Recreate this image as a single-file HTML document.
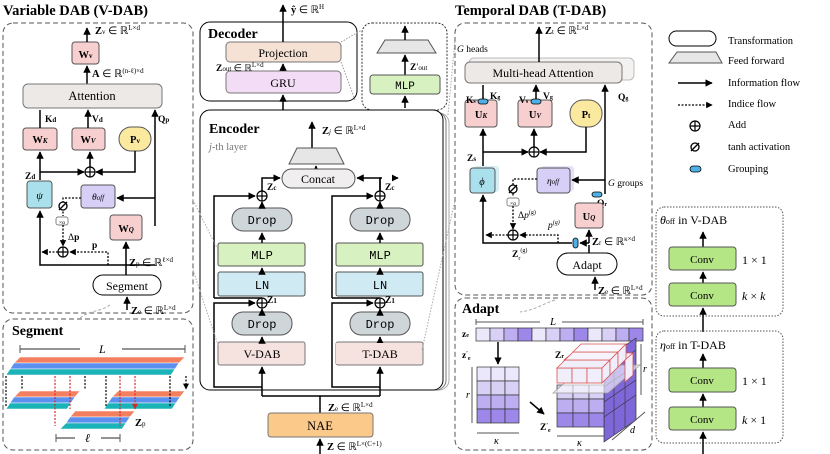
<!DOCTYPE html>
<html><head><meta charset="utf-8"><style>
html,body{margin:0;padding:0;background:#fff;}
svg{display:block;font-family:"Liberation Serif",serif;}
.b{font-weight:bold}
.m{font-family:"Liberation Mono",monospace}
</style></head><body>
<svg width="830" height="454" viewBox="0 0 830 454" xmlns="http://www.w3.org/2000/svg">
<defs>
<marker id="a" viewBox="0 0 10 10" refX="9" refY="5" markerWidth="5" markerHeight="5" orient="auto"><path d="M0,0L10,5L0,10z" fill="#000"/></marker>
<marker id="ar" viewBox="0 0 10 10" refX="9" refY="5" markerWidth="5" markerHeight="5" orient="auto"><path d="M0,0L10,5L0,10z" fill="#d62828"/></marker>
<g id="plus"><circle r="5" fill="#fff" stroke="#000" stroke-width="1.2"/><path d="M-5,0H5M0,-5V5" stroke="#000" stroke-width="1.2"/></g>
<g id="tanh"><circle r="4" fill="#fff" stroke="#000" stroke-width="1.3"/><path d="M-4,4L4,-4" stroke="#000" stroke-width="1.3"/></g>
</defs>
<style>
.pk{fill:#f8cfcf;stroke:#555;stroke-width:1}
.ln{stroke:#000;stroke-width:1.5;fill:none}
.dt{stroke:#000;stroke-width:1.3;fill:none;stroke-dasharray:2,1.5}
.t{font-size:10.5px}
.s{font-size:9.5px}
</style>

<!-- ===== V-DAB ===== -->
<text x="3" y="15" class="b" font-size="14.5">Variable DAB (V-DAB)</text>
<rect x="3" y="23" width="190" height="290" rx="10" fill="none" stroke="#555" stroke-dasharray="5,3"/>
<rect x="72" y="42" width="27" height="22" rx="3" class="pk"/><text x="85.5" y="58" text-anchor="middle" class="t b">W<tspan font-size="7">v</tspan></text>
<path d="M87,42V28" class="ln" marker-end="url(#a)"/><text x="95" y="34" class="t"><tspan class="b">Z</tspan><tspan font-size="7">v</tspan> ∈ ℝ<tspan font-size="7" dy="-4">L×d</tspan></text>
<path d="M87,84V66" class="ln" marker-end="url(#a)"/><text x="92" y="77" class="t"><tspan class="b">A</tspan> ∈ ℝ<tspan font-size="7" dy="-4">(n-ℓ)×d</tspan></text>
<rect x="23" y="84" width="139" height="24" rx="5" fill="#ede9e6" stroke="#777"/><text x="92" y="100" text-anchor="middle" font-size="12.5">Attention</text>
<rect x="23" y="128" width="34" height="22" rx="3" class="pk"/><text x="40" y="143" text-anchor="middle" class="t b">W<tspan font-size="7" font-style="italic">K</tspan></text>
<rect x="72" y="128" width="33" height="22" rx="3" class="pk"/><text x="88" y="143" text-anchor="middle" class="t b">W<tspan font-size="7" font-style="italic">V</tspan></text>
<rect x="119" y="127" width="32" height="24" rx="12" fill="#fbe9a0" stroke="#555"/><text x="135" y="143" text-anchor="middle" class="t b">P<tspan font-size="7">v</tspan></text>
<path d="M40,128V110M88,128V110" class="ln" marker-end="url(#a)"/>
<text x="45" y="122" class="s b">K<tspan font-size="7">d</tspan></text><text x="92" y="122" class="s b">V<tspan font-size="7">d</tspan></text>
<path d="M155,226H155V110" class="ln" marker-end="url(#a)"/><text x="158" y="122" class="s b">Q<tspan font-size="7">p</tspan></text>
<path d="M40,180V152" class="ln" marker-end="url(#a)"/>
<path d="M40,172H84" class="ln" marker-end="url(#a)"/>
<path d="M135,151V172H96" class="ln" marker-end="url(#a)"/>
<path d="M90,167V152" class="ln" marker-end="url(#a)"/>
<use href="#plus" x="90" y="172"/>
<text x="25" y="179" class="s b">Z<tspan font-size="7">d</tspan></text>
<rect x="27" y="181" width="25" height="27" rx="3" fill="#a9e0ec" stroke="#555"/><text x="39.5" y="199" text-anchor="middle" class="t" font-style="italic">ψ</text>
<rect x="81" y="185" width="34" height="23" rx="3" fill="#d8cff6" stroke="#555"/><text x="98" y="200" text-anchor="middle" class="s" font-style="italic">θ<tspan font-size="7">off</tspan></text>
<path d="M155,198H117" class="ln" marker-end="url(#a)"/>
<rect x="110" y="215" width="32" height="25" rx="3" class="pk"/><text x="126" y="232" text-anchor="middle" class="t b">W<tspan font-size="7" font-style="italic">Q</tspan></text>
<path d="M126,265V242" class="ln" marker-end="url(#a)"/>
<path d="M81,198H63V216" class="dt"/>
<use href="#tanh" x="63" y="206"/>
<rect x="56" y="217" width="12" height="8" rx="2" fill="#fff" stroke="#555" stroke-width="0.7"/><text x="62" y="224" text-anchor="middle" font-size="5.5">×α</text>
<path d="M63,225V246" class="dt" marker-end="url(#a)"/><text x="68" y="240" class="s b"><tspan font-weight="normal">Δ</tspan>p</text>
<use href="#plus" x="63" y="252"/>
<path d="M108,265V252H70" class="dt" marker-end="url(#a)"/><text x="92" y="248" class="s b">p</text>
<path d="M58,252H42" class="dt" marker-end="url(#a)"/>
<path d="M155,265H40V211" class="ln" marker-end="url(#a)"/>
<path d="M126,275V265" class="ln"/>
<text x="129" y="266" class="t"><tspan class="b">Z</tspan><tspan font-size="7">p</tspan> ∈ ℝ<tspan font-size="7" dy="-4">ℓ×d</tspan></text>
<rect x="93" y="275" width="68" height="20" rx="10" fill="#fff" stroke="#000"/><text x="127" y="290" text-anchor="middle" font-size="12">Segment</text>
<path d="M127,310V297" class="ln" marker-end="url(#a)"/>
<text x="131" y="314" class="t"><tspan class="b">Z</tspan><tspan font-size="7">e</tspan> ∈ ℝ<tspan font-size="7" dy="-4">L×d</tspan></text>

<!-- ===== Segment panel ===== -->
<rect x="3" y="319" width="190" height="131" rx="10" fill="none" stroke="#555" stroke-dasharray="5,3"/>
<text x="12" y="335" class="b" font-size="14">Segment</text>
<path d="M20,349H80M122,349H185" stroke="#555" stroke-width="1.2"/><path d="M20,345V353M185,345V353" stroke="#555"/>
<text x="99" y="353" font-size="12" font-style="italic">L</text>
<g stroke="#fff" stroke-width="0.6">
<path d="M20,357H185L179,363H14z" fill="#f47f5e"/><path d="M14,363H179L175,369H10z" fill="#5b8ff0"/><path d="M10,369H175L171,375H6z" fill="#1ab3b8"/>
<path d="M20,391H80L75,397H14z" fill="#f47f5e"/><path d="M14,397H75L71,403H10z" fill="#5b8ff0"/><path d="M10,403H71L67,409H6z" fill="#1ab3b8"/>
<path d="M118,391H185L180,397H112z" fill="#f47f5e"/><path d="M112,397H180L176,403H108z" fill="#5b8ff0"/><path d="M108,403H176L172,409H104z" fill="#1ab3b8"/>
<path d="M75,411H135L130,417H70z" fill="#f47f5e"/><path d="M70,417H130L126,423H66z" fill="#5b8ff0"/><path d="M66,423H126L122,429H60z" fill="#1ab3b8"/>
</g>
<g stroke-dasharray="2,1.5" stroke-width="1.2" fill="none">
<path d="M6,376V406M22,376V389M85,376V389M106,376V406M170,376V406M186,376V389" stroke="#000" marker-end="url(#a)"/>
<path d="M55,376V426M70,376V409M120,376V426M135,376V409" stroke="#d62828" marker-end="url(#ar)"/>
</g>
<text x="135" y="426" class="t"><tspan class="b">Z</tspan><tspan font-size="7">p</tspan></text>
<path d="M56,438H75M101,438H120" stroke="#555" stroke-width="1.2"/><path d="M56,434V442M120,434V442" stroke="#555"/>
<text x="85" y="442" font-size="12" font-style="italic">ℓ</text>
<path d="M80,318C90,310 100,312 110,305" stroke="#aaa" fill="none" stroke-dasharray="3,2"/>

<!-- ===== Decoder ===== -->
<rect x="200" y="22" width="157" height="79" rx="10" fill="none" stroke="#000"/>
<text x="208" y="38" class="b" font-size="14">Decoder</text>
<rect x="226" y="42" width="115" height="20" rx="4" fill="#f6e2d4" stroke="#777"/><text x="283" y="57" text-anchor="middle" font-size="12">Projection</text>
<rect x="226" y="71" width="115" height="22" rx="4" fill="#f3dcf5" stroke="#777"/><text x="283" y="87" text-anchor="middle" font-size="12">GRU</text>
<path d="M283,42V5" class="ln" marker-end="url(#a)"/><text x="291" y="13" class="t"><tspan class="b">ŷ</tspan> ∈ ℝ<tspan font-size="7" dy="-4">H</tspan></text>
<path d="M283,71V64" class="ln" marker-end="url(#a)"/><text x="216" y="71" class="s"><tspan class="b">Z</tspan><tspan font-size="7">out</tspan> ∈ ℝ<tspan font-size="7" dy="-4">L×d</tspan></text>
<path d="M283,110V95" class="ln" marker-end="url(#a)"/>
<rect x="362" y="23" width="85" height="87" rx="10" fill="none" stroke="#333" stroke-dasharray="2,1.5"/>
<path d="M341,42L362,30M341,62L355,100" stroke="#999" stroke-dasharray="1.5,1.5" fill="none"/>
<path d="M377,53L385,40H428L436,53z" fill="#e6e6e6" stroke="#555"/>
<path d="M405,40V26" class="ln" marker-end="url(#a)"/>
<path d="M405,75V55" class="ln" marker-end="url(#a)"/><text x="410" y="70" class="s"><tspan class="b">Z</tspan>′<tspan font-size="7">out</tspan></text>
<rect x="370" y="75" width="70" height="19" rx="3" fill="#d7f1c0" stroke="#555"/><text x="405" y="89" text-anchor="middle" class="m" font-size="11">MLP</text>
<path d="M405,108V96" class="ln" marker-end="url(#a)"/>

<!-- ===== Encoder ===== -->
<rect x="207" y="113" width="242" height="277" rx="10" fill="#fff" stroke="#aaa"/>
<rect x="204" y="112" width="242" height="278" rx="10" fill="#fff" stroke="#777"/>
<rect x="200" y="110" width="243" height="280" rx="10" fill="#fff" stroke="#000"/>
<text x="209" y="133" class="b" font-size="14">Encoder</text>
<text x="209" y="150" font-size="10.5" fill="#777"><tspan font-style="italic">j</tspan>-th layer</text>
<path d="M312,148V122" class="ln" marker-end="url(#a)"/><text x="322" y="134" class="t"><tspan class="b">Z</tspan><tspan font-size="7" font-style="italic">j</tspan> ∈ ℝ<tspan font-size="7" dy="-4">L×d</tspan></text>
<path d="M289,164L297,148H336L344,164z" fill="#e6e6e6" stroke="#555"/>
<path d="M316,170V166" class="ln" marker-end="url(#a)"/>
<rect x="282" y="169" width="73" height="19" rx="9.5" fill="#f0eeee" stroke="#555"/><text x="318" y="183" text-anchor="middle" font-size="12">Concat</text>
<!-- columns -->
<g id="col">
<path d="M262,191V178H280" class="ln" marker-end="url(#a)"/>
<use href="#plus" x="262" y="196"/>
<rect x="232" y="208" width="60" height="23" rx="11" fill="#cfd6d9" stroke="#555"/><text x="262" y="224" text-anchor="middle" class="m" font-size="12">Drop</text>
<path d="M262,208V202" class="ln" marker-end="url(#a)"/>
<rect x="218" y="243" width="87" height="23" rx="2" fill="#d7f1c0" stroke="#555"/><text x="262" y="259" text-anchor="middle" class="m" font-size="12">MLP</text>
<path d="M262,243V233" class="ln" marker-end="url(#a)"/>
<rect x="218" y="272" width="87" height="24" rx="2" fill="#cfeaf3" stroke="#555"/><text x="262" y="289" text-anchor="middle" class="m" font-size="12">LN</text>
<path d="M262,272V268" class="ln" marker-end="url(#a)"/>
<path d="M262,298V308" class="ln"/>
<path d="M214,298V196H255" class="ln" marker-end="url(#a)"/>
<path d="M214,298H262" class="ln"/>
<use href="#plus" x="262" y="303"/>
<rect x="232" y="312" width="60" height="23" rx="11" fill="#cfd6d9" stroke="#555"/><text x="262" y="328" text-anchor="middle" class="m" font-size="12">Drop</text>
<path d="M262,312V309" class="ln" marker-end="url(#a)"/>
<rect x="218" y="342" width="87" height="23" rx="2" fill="#f6e2de" stroke="#777"/>
<path d="M262,342V337" class="ln" marker-end="url(#a)"/>
<path d="M262,396V367" class="ln" marker-end="url(#a)"/>
<path d="M262,387H214V303H255" class="ln" marker-end="url(#a)"/>
</g>
<text x="262" y="358" text-anchor="middle" font-size="12">V-DAB</text>
<text x="267" y="190" class="s b">Z<tspan font-size="7">c</tspan></text>
<text x="267" y="303" class="s b">Z<tspan font-size="7">1</tspan></text>
<use href="#col" x="118"/>
<rect x="336" y="343" width="86" height="21" fill="#f6e2de"/>
<text x="380" y="358" text-anchor="middle" font-size="12">T-DAB</text>
<rect x="382" y="174" width="10" height="8" fill="#fff"/>
<path d="M380,191V178H357" class="ln" marker-end="url(#a)"/>
<text x="385" y="190" class="s b">Z<tspan font-size="7">c</tspan></text>
<text x="385" y="303" class="s b">Z<tspan font-size="7">1</tspan></text>
<path d="M262,396H380M320,413V396" class="ln"/>
<text x="328" y="411" class="t"><tspan class="b">Z</tspan><tspan font-size="7">e</tspan> ∈ ℝ<tspan font-size="7" dy="-4">L×d</tspan></text>
<rect x="268" y="413" width="105" height="24" rx="3" fill="#fbc98a" stroke="#777"/><text x="320" y="430" text-anchor="middle" font-size="12.5">NAE</text>
<path d="M320,454V439" class="ln" marker-end="url(#a)"/>
<text x="327" y="450" class="t"><tspan class="b">Z</tspan> ∈ ℝ<tspan font-size="7" dy="-4">L×(C+1)</tspan></text>
<path d="M193,270L218,345M193,200L218,250" stroke="#aaa" stroke-dasharray="1.5,1.5" fill="none"/>
<path d="M422,350L455,200M448,115L455,40" stroke="#aaa" stroke-dasharray="1.5,1.5" fill="none"/>

<!-- ===== T-DAB ===== -->
<text x="455" y="15" class="b" font-size="14.5">Temporal DAB (T-DAB)</text>
<rect x="455" y="23" width="197" height="272" rx="10" fill="none" stroke="#555" stroke-dasharray="5,3"/>
<rect x="469" y="58" width="165" height="22" rx="5" fill="#f4f2f0" stroke="#bbb"/>
<rect x="465" y="62" width="157" height="21" rx="5" fill="#ede9e6" stroke="#777"/>
<text x="543" y="77" text-anchor="middle" font-size="12">Multi-head Attention</text>
<path d="M539,62V27" class="ln" marker-end="url(#a)"/><text x="545" y="34" class="t"><tspan class="b">Z</tspan><tspan font-size="7">t</tspan> ∈ ℝ<tspan font-size="7" dy="-4">L×d</tspan></text>
<text x="457" y="52" class="s"><tspan font-style="italic">G</tspan> heads</text>
<rect x="465" y="100" width="32" height="27" rx="3" class="pk"/><text x="481" y="118" text-anchor="middle" class="t b">U<tspan font-size="7" font-style="italic">K</tspan></text>
<rect x="518" y="100" width="34" height="27" rx="3" class="pk"/><text x="535" y="118" text-anchor="middle" class="t b">U<tspan font-size="7" font-style="italic">V</tspan></text>
<rect x="570" y="100" width="32" height="27" rx="13" fill="#fbe9a0" stroke="#555"/><text x="586" y="118" text-anchor="middle" class="t b">P<tspan font-size="7">t</tspan></text>
<path d="M483,100V85M536,100V85" class="ln" marker-end="url(#a)"/>
<rect x="478" y="99" width="10" height="5" rx="2.5" fill="#4fb0e6" stroke="#000" stroke-width="0.8"/>
<rect x="531" y="99" width="10" height="5" rx="2.5" fill="#4fb0e6" stroke="#000" stroke-width="0.8"/>
<text x="466" y="103" class="s b">K<tspan font-size="6">s</tspan></text><text x="490" y="99" class="s b">K<tspan font-size="6">g</tspan></text>
<text x="519" y="103" class="s b">V<tspan font-size="6">s</tspan></text><text x="543" y="99" class="s b">V<tspan font-size="6">g</tspan></text>
<path d="M605,194V85" class="ln" marker-end="url(#a)"/><text x="618" y="100" class="s b">Q<tspan font-size="6">g</tspan></text>
<path d="M483,168V129" class="ln" marker-end="url(#a)"/>
<path d="M483,152H528" class="ln" marker-end="url(#a)"/>
<path d="M586,127V152H540" class="ln" marker-end="url(#a)"/>
<path d="M534,147V129" class="ln" marker-end="url(#a)"/>
<use href="#plus" x="534" y="152"/>
<text x="467" y="161" class="s b">Z<tspan font-size="7">s</tspan></text>
<rect x="474" y="166" width="25" height="26" rx="3" fill="#d6eef3"/>
<rect x="470" y="168" width="25" height="25" rx="3" fill="#a9e0ec" stroke="#555"/><text x="482" y="185" text-anchor="middle" class="t" font-style="italic">ϕ</text>
<rect x="541" y="166" width="33" height="25" rx="3" fill="#e6e0fa"/>
<rect x="537" y="168" width="33" height="25" rx="3" fill="#d8cff6" stroke="#555"/><text x="553" y="184" text-anchor="middle" class="s" font-style="italic">η<tspan font-size="7">off</tspan></text>
<path d="M605,180H572" class="ln" marker-end="url(#a)"/>
<text x="608" y="186" class="s"><tspan font-style="italic">G</tspan> groups</text>
<rect x="592" y="192" width="10" height="5" rx="2.5" fill="#4fb0e6" stroke="#000" stroke-width="0.8"/>
<text x="597" y="206" class="s b">Q<tspan font-size="6">r</tspan></text>
<rect x="575" y="203" width="28" height="25" rx="3" class="pk"/><text x="589" y="220" text-anchor="middle" class="t b">U<tspan font-size="7" font-style="italic">Q</tspan></text>
<path d="M589,243V230" class="ln" marker-end="url(#a)"/>
<path d="M537,179H513V196" class="dt"/>
<use href="#tanh" x="513" y="189"/>
<rect x="507" y="198" width="12" height="8" rx="2" fill="#fff" stroke="#555" stroke-width="0.7"/><text x="513" y="205" text-anchor="middle" font-size="5.5">×α</text>
<path d="M513,206V229" class="dt" marker-end="url(#a)"/><text x="518" y="218" class="s">Δ<tspan font-style="italic">p</tspan><tspan font-size="6" dy="-4">(g)</tspan></text>
<use href="#plus" x="513" y="235"/>
<path d="M558,243V235H520" class="dt" marker-end="url(#a)"/><text x="548" y="228" class="s" font-style="italic">p<tspan font-size="6" dy="-4">(g)</tspan></text>
<path d="M508,235H486" class="dt" marker-end="url(#a)"/>
<path d="M572,243H483V195" class="ln" marker-end="url(#a)"/>
<path d="M589,243H580" class="ln" marker-end="url(#a)"/>
<rect x="573" y="238" width="5" height="10" rx="2.5" fill="#4fb0e6" stroke="#000" stroke-width="0.8"/>
<text x="592" y="245" class="t"><tspan class="b">Z</tspan><tspan font-size="7">r</tspan> ∈ ℝ<tspan font-size="7" dy="-4">κ×d</tspan></text>
<text x="512" y="257" class="s"><tspan class="b">Z</tspan><tspan font-size="6" dy="3">r</tspan><tspan font-size="6" dy="-8">(g)</tspan></text>
<path d="M589,253V245" class="ln"/>
<rect x="557" y="253" width="60" height="22" rx="11" fill="#fff" stroke="#000"/><text x="587" y="269" text-anchor="middle" font-size="12">Adapt</text>
<path d="M595,290V277" class="ln" marker-end="url(#a)"/>
<text x="598" y="294" class="t"><tspan class="b">Z</tspan><tspan font-size="7">e</tspan> ∈ ℝ<tspan font-size="7" dy="-4">L×d</tspan></text>

<!-- ===== Adapt ===== -->
<rect x="455" y="298" width="197" height="152" rx="10" fill="none" stroke="#555" stroke-dasharray="5,3"/>
<text x="462" y="313" class="b" font-size="14">Adapt</text>
<path d="M476,322H540M562,322H643" stroke="#555"/><path d="M476,319V325M643,319V325" stroke="#555"/>
<text x="550" y="325" font-size="11" font-style="italic">L</text>
<text x="462" y="337" class="s b">z<tspan font-size="6">e</tspan></text>
<g stroke="#333" stroke-width="0.7">
<rect x="476" y="328" width="14" height="13" fill="#ece8fb"/><rect x="490" y="328" width="14" height="13" fill="#d8d0f5"/><rect x="504" y="328" width="14" height="13" fill="#bcaef0"/><rect x="518" y="328" width="14" height="13" fill="#9d87e8"/>
<rect x="532" y="328" width="14" height="13" fill="#ece8fb"/><rect x="546" y="328" width="14" height="13" fill="#d8d0f5"/><rect x="560" y="328" width="14" height="13" fill="#bcaef0"/><rect x="574" y="328" width="14" height="13" fill="#9d87e8"/>
<rect x="588" y="328" width="14" height="13" fill="#ece8fb"/><rect x="602" y="328" width="14" height="13" fill="#d8d0f5"/><rect x="616" y="328" width="13" height="13" fill="#bcaef0"/><rect x="629" y="328" width="14" height="13" fill="#9d87e8"/>
</g>
<path d="M498,342V364" class="ln" marker-end="url(#a)"/>
<text x="462" y="358" class="s b">z<tspan font-size="6" dy="-3">′</tspan><tspan font-size="6" dy="5">e</tspan></text>
<g stroke="#333" stroke-width="0.7">
<rect x="477" y="367" width="14" height="14" fill="#ece8fb"/><rect x="491" y="367" width="14" height="14" fill="#ece8fb"/><rect x="505" y="367" width="14" height="14" fill="#ece8fb"/>
<rect x="477" y="381" width="14" height="14" fill="#d8d0f5"/><rect x="491" y="381" width="14" height="14" fill="#d8d0f5"/><rect x="505" y="381" width="14" height="14" fill="#d8d0f5"/>
<rect x="477" y="395" width="14" height="14" fill="#bcaef0"/><rect x="491" y="395" width="14" height="14" fill="#bcaef0"/><rect x="505" y="395" width="14" height="14" fill="#bcaef0"/>
<rect x="477" y="409" width="14" height="14" fill="#9d87e8"/><rect x="491" y="409" width="14" height="14" fill="#9d87e8"/><rect x="505" y="409" width="14" height="14" fill="#9d87e8"/>
</g>
<path d="M472,367V423" stroke="#555"/><text x="466" y="398" font-size="10" font-style="italic">r</text>
<path d="M477,433H519" stroke="#555"/><text x="494" y="444" font-size="10" font-style="italic">κ</text>
<path d="M530,402L544,414" class="ln" marker-end="url(#a)"/>
<text x="540" y="430" class="s b">Z<tspan font-size="6" dy="-3">′</tspan><tspan font-size="6" dy="5">e</tspan></text>
<!-- cube -->
<path d="M604,360L636,338V420L604,442z" fill="#7e67d8" stroke="#333" stroke-width="0.7"/>
<path d="M604,372L636,350M604,387L636,365M604,402L636,380M604,417L636,395M614,353V435M625,345V428" stroke="#333" stroke-width="0.6"/>
<g stroke="#333" stroke-width="0.7">
<rect x="557" y="385" width="16" height="14" fill="#d8d0f5"/><rect x="573" y="385" width="16" height="14" fill="#d8d0f5"/><rect x="589" y="385" width="15" height="14" fill="#d8d0f5"/>
<rect x="557" y="399" width="16" height="14" fill="#bcaef0"/><rect x="573" y="399" width="16" height="14" fill="#bcaef0"/><rect x="589" y="399" width="15" height="14" fill="#bcaef0"/>
<rect x="557" y="413" width="16" height="14" fill="#9d87e8"/><rect x="573" y="413" width="16" height="14" fill="#9d87e8"/><rect x="589" y="413" width="15" height="14" fill="#9d87e8"/>
</g>
<path d="M553,393L585,365H640L608,393z" fill="#fff" fill-opacity="0.6" stroke="#999" stroke-width="0.7"/>
<g stroke="#d9534f" stroke-width="0.8" fill="#f1eefc">
<path d="M587,360L595,353H633L625,360z M625,360L633,353V375L625,382z"/>
<path d="M564,360H580L596,347H580z" fill="#f6f3fd"/>
<rect x="557" y="368" width="15" height="15"/><rect x="572" y="368" width="15" height="15"/><rect x="587" y="368" width="15" height="15"/>
<path d="M557,368L565,360H610L602,368z"/>
<path d="M602,368L610,360V375L602,383z"/>
<path d="M565,360L573,352H618L610,360z" fill="#f6f3fd"/>
<path d="M610,360L618,352V367L610,375z"/>
<path d="M573,352L581,344H626L618,352z" fill="#fbf9ff"/>
<path d="M618,352L626,344V359L618,367z"/>
</g>
<text x="555" y="358" class="s b">Z<tspan font-size="6">r</tspan></text>
<path d="M641,344V395" stroke="#555"/><text x="643" y="372" font-size="10" font-style="italic">r</text>
<path d="M557,436H604" stroke="#555"/><text x="577" y="446" font-size="10" font-style="italic">κ</text>
<path d="M612,440L645,412" stroke="#555"/><text x="630" y="433" font-size="10" font-style="italic">d</text>
<path d="M555,300C540,305 535,310 520,312" stroke="#aaa" fill="none" stroke-dasharray="3,2"/>

<!-- ===== Legend ===== -->
<rect x="669" y="31" width="47" height="15" rx="7.5" fill="#fff" stroke="#000"/><text x="728" y="44" class="t">Transformation</text>
<path d="M669,63L677,52H716L722,63z" fill="#e6e6e6" stroke="#555"/><text x="728" y="64" class="t">Feed forward</text>
<path d="M678,83H712" class="ln" marker-end="url(#a)"/><text x="728" y="86" class="t">Information flow</text>
<path d="M678,105H712" class="dt" marker-end="url(#a)"/><text x="728" y="107" class="t">Indice flow</text>
<use href="#plus" x="695" y="126"/><text x="728" y="128" class="t">Add</text>
<use href="#tanh" x="695" y="147"/><text x="728" y="150" class="t">tanh activation</text>
<rect x="690" y="166" width="11" height="6" rx="3" fill="#4fb0e6" stroke="#000" stroke-width="0.8"/><text x="728" y="172" class="t">Grouping</text>

<rect x="656" y="207" width="127" height="109" rx="8" fill="none" stroke="#555" stroke-dasharray="1.5,1.5"/>
<text x="660" y="224" font-size="12"><tspan font-style="italic">θ</tspan><tspan font-size="8">off</tspan> in V-DAB</text>
<path d="M703,247V232" class="ln" marker-end="url(#a)"/>
<rect x="669" y="247" width="67" height="23" rx="3" fill="#b5e685" stroke="#555"/><text x="702" y="263" text-anchor="middle" font-size="11">Conv</text>
<path d="M703,283V272" class="ln" marker-end="url(#a)"/>
<rect x="669" y="283" width="67" height="23" rx="3" fill="#b5e685" stroke="#555"/><text x="702" y="299" text-anchor="middle" font-size="11">Conv</text>
<text x="742" y="264" font-size="12">1 × 1</text><text x="742" y="300" font-size="12" font-style="italic">k <tspan font-style="normal">×</tspan> k</text>
<path d="M703,332V308" class="ln" marker-end="url(#a)"/>
<rect x="656" y="331" width="127" height="112" rx="8" fill="none" stroke="#555" stroke-dasharray="1.5,1.5"/>
<text x="660" y="349" font-size="12"><tspan font-style="italic">η</tspan><tspan font-size="8">off</tspan> in T-DAB</text>
<path d="M703,368V354" class="ln" marker-end="url(#a)"/>
<rect x="669" y="368" width="67" height="24" rx="3" fill="#b5e685" stroke="#555"/><text x="702" y="384" text-anchor="middle" font-size="11">Conv</text>
<path d="M703,407V394" class="ln" marker-end="url(#a)"/>
<rect x="669" y="407" width="67" height="23" rx="3" fill="#b5e685" stroke="#555"/><text x="702" y="423" text-anchor="middle" font-size="11">Conv</text>
<text x="742" y="385" font-size="12">1 × 1</text><text x="742" y="424" font-size="12" font-style="italic">k <tspan font-style="normal">× 1</tspan></text>
<path d="M703,454V432" class="ln" marker-end="url(#a)"/>
</svg>
</body></html>
